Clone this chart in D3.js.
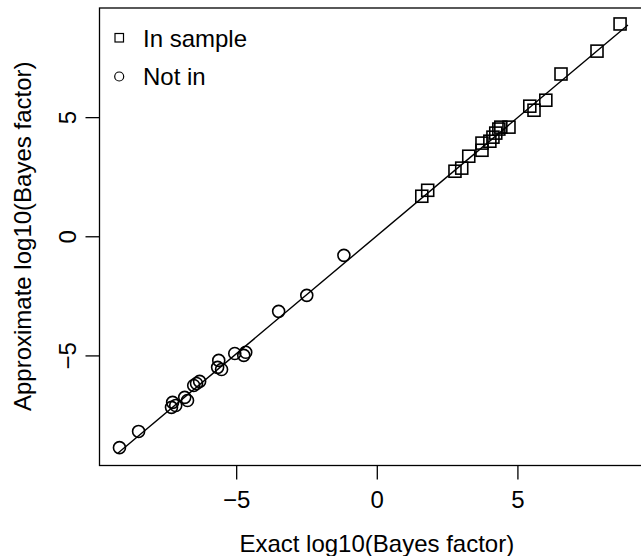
<!DOCTYPE html>
<html>
<head>
<meta charset="utf-8">
<script src="https://cdn.jsdelivr.net/npm/d3@7"></script>
<style>
  body { margin: 0; background: #fff; }
  svg text { font-family: "Liberation Sans", Arial, Helvetica, sans-serif; fill: #000; }
</style>
</head>
<body>
<div id="chart"></div>
<script>
'use strict';

// in sample (squares)
var inX = [1.60, 1.81, 2.78, 3.02, 3.27, 3.74, 3.74, 4.02, 4.13, 4.23, 4.34, 4.41, 4.70, 5.44, 5.59, 6.01, 6.55, 7.83, 8.65];
var inY = [1.68, 1.93, 2.73, 2.86, 3.36, 3.91, 3.61, 3.99, 4.16, 4.33, 4.50, 4.58, 4.58, 5.46, 5.29, 5.71, 6.81, 7.77, 8.91];

// not in sample (circles)
var outX = [-9.15, -8.47, -7.26, -7.15, -7.30, -6.83, -6.73, -6.51, -6.41, -6.30, -5.62, -5.66, -5.52, -5.05, -4.73, -4.66, -3.49, -2.49, -1.17];
var outY = [-8.87, -8.19, -6.97, -7.10, -7.18, -6.76, -6.89, -6.26, -6.18, -6.09, -5.21, -5.50, -5.59, -4.92, -5.00, -4.87, -3.15, -2.48, -0.80];

// fitted line end points
var lineX = [-9.22, 8.93];
var lineY = [-9.12, 8.87];

var xTicks = [-5, 0, 5];
var yTicks = [-5, 0, 5];
var legendLabels = ['In sample', 'Not in'];

var width = 641, height = 556;
var box = { left: 99.5, right: 642, top: 8, bottom: 465.5 };

var svg = d3.select('#chart').append('svg')
    .attr('width', width)
    .attr('height', height);

var x = d3.scaleLinear().domain([-9.86, 9.43]).range([box.left, box.right]);
var y = d3.scaleLinear().domain([-9.62, 9.58]).range([box.bottom, box.top]);

var fontSize = 24;
var minus = function(d) { return d < 0 ? '\u2212' + Math.abs(d) : d; };

// AXES
var xAxis = svg.append('g')
    .attr('transform', 'translate(0,' + box.bottom + ')')
    .call(d3.axisBottom(x).tickValues(xTicks).tickSize(14).tickFormat(minus));
xAxis.select('.domain').remove();
xAxis.selectAll('line').attr('stroke', '#000').attr('stroke-width', 1.3);
xAxis.selectAll('text')
    .attr('font-size', fontSize)
    .attr('font-family', null)
    .attr('y', 34)
    .attr('dy', null)
    .attr('dominant-baseline', 'central');

var yAxis = svg.append('g')
    .attr('transform', 'translate(' + box.left + ',0)')
    .call(d3.axisLeft(y).tickValues(yTicks).tickSize(14).tickFormat(minus));
yAxis.select('.domain').remove();
yAxis.selectAll('line').attr('stroke', '#000').attr('stroke-width', 1.3);
yAxis.selectAll('text')
    .attr('font-size', fontSize)
    .attr('font-family', null)
    .attr('x', null)
    .attr('dy', null)
    .attr('text-anchor', 'middle')
    .attr('transform', 'translate(-32,0) rotate(-90)')
    .attr('dominant-baseline', 'central');

// box
svg.append('rect')
    .attr('x', box.left)
    .attr('y', box.top)
    .attr('width', box.right - box.left)
    .attr('height', box.bottom - box.top)
    .attr('fill', 'none')
    .attr('stroke', '#000')
    .attr('stroke-width', 1.3);

// titles
svg.append('text')
    .attr('x', x(0))
    .attr('y', 543)
    .attr('text-anchor', 'middle')
    .attr('dominant-baseline', 'central')
    .attr('font-size', fontSize)
    .text('Exact log10(Bayes factor)');

svg.append('text')
    .attr('transform', 'translate(22,' + y(0) + ') rotate(-90)')
    .attr('text-anchor', 'middle')
    .attr('dominant-baseline', 'central')
    .attr('font-size', fontSize)
    .text('Approximate log10(Bayes factor)');

// FITTED LINE
var plot = svg.append('g');
plot.append('line')
    .attr('x1', x(lineX[0])).attr('y1', y(lineY[0]))
    .attr('x2', x(lineX[1])).attr('y2', y(lineY[1]))
    .attr('stroke', '#000')
    .attr('stroke-width', 1.4);

// POINTS
var sq = 12;
plot.append('g').selectAll('rect')
    .data(d3.zip(inX, inY)).enter()
    .append('rect')
    .attr('x', function(d) { return x(d[0]) - sq / 2; })
    .attr('y', function(d) { return y(d[1]) - sq / 2; })
    .attr('width', sq)
    .attr('height', sq)
    .attr('fill', 'none')
    .attr('stroke', '#000')
    .attr('stroke-width', 1.6);

plot.append('g').selectAll('circle')
    .data(d3.zip(outX, outY)).enter()
    .append('circle')
    .attr('cx', function(d) { return x(d[0]); })
    .attr('cy', function(d) { return y(d[1]); })
    .attr('r', 6)
    .attr('fill', 'none')
    .attr('stroke', '#000')
    .attr('stroke-width', 1.6);

// LEGEND
var legend = svg.append('g');
legend.append('rect')
    .attr('x', 115).attr('y', 33.5)
    .attr('width', 8.5).attr('height', 8.5)
    .attr('fill', 'none').attr('stroke', '#000').attr('stroke-width', 1.2);
legend.append('circle')
    .attr('cx', 119.2).attr('cy', 76.5)
    .attr('r', 4.5)
    .attr('fill', 'none').attr('stroke', '#000').attr('stroke-width', 1.2);
legend.selectAll('text')
    .data(legendLabels).enter()
    .append('text')
    .attr('x', 143)
    .attr('y', function(d, i) { return 38 + i * 38.5; })
    .attr('dominant-baseline', 'central')
    .attr('font-size', fontSize)
    .text(function(d) { return d; });
</script>
</body>
</html>
